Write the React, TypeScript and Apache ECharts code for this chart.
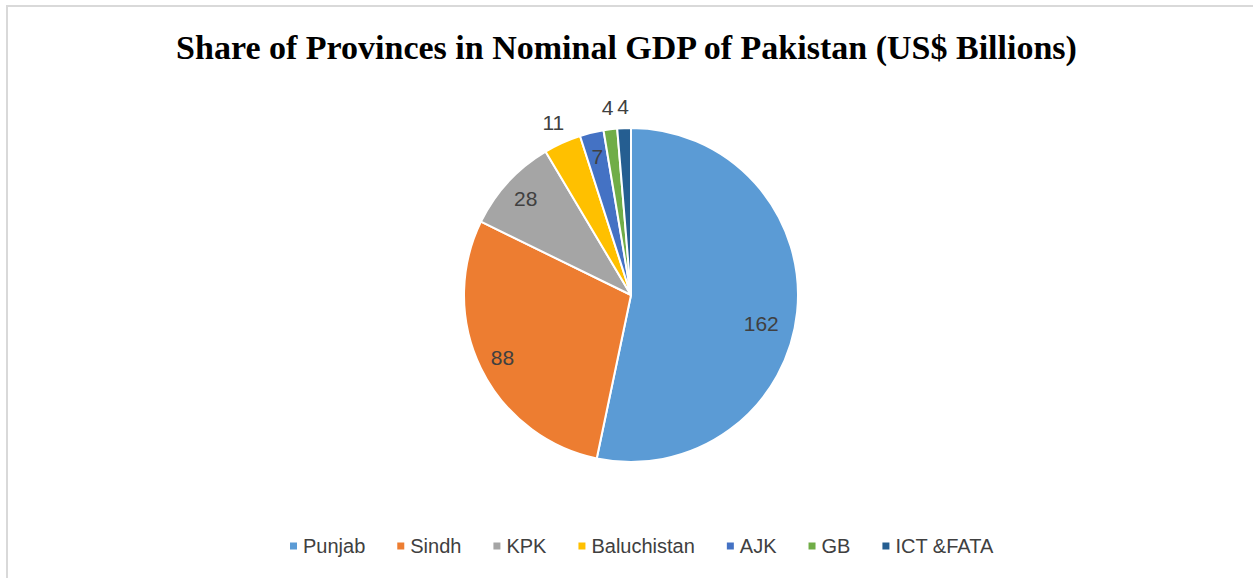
import React, { useEffect, useRef } from "react";
import * as echarts from "echarts";

const titleText = "Share of Provinces in Nominal GDP of Pakistan (US$ Billions)";
const regions = ["Punjab", "Sindh", "KPK", "Baluchistan", "AJK", "GB", "ICT &FATA"];
const gdpValues = [162, 88, 28, 11, 7, 4, 4];
const colors = ["#5B9BD5", "#ED7D31", "#A5A5A5", "#FFC000", "#4472C4", "#70AD47", "#255E91"];
// which labels sit inside the pie (true) or just outside it (false)
const labelInside = [true, true, true, false, true, false, false];

export default function App() {
  const ref = useRef<HTMLDivElement>(null);
  useEffect(() => {
    document.body.style.margin = "0";
    const chart = echarts.init(ref.current!, null, { renderer: "svg" });
    const labelStyle = {
      color: "#404040",
      fontSize: 21,
      fontFamily: "Liberation Sans, Arial, sans-serif",
    };
    const mainData = regions.map((n, i) => ({ name: n, value: gdpValues[i], itemStyle: { color: colors[i] } }));
    const labelData = (inside: boolean) =>
      regions.map((n, i) => ({
        name: n,
        value: gdpValues[i],
        label: i === 0 ? { show: labelInside[i] === inside, offset: [-12, 14] } : { show: labelInside[i] === inside },
      }));
    const center = [631, 295];
    chart.setOption({
      animation: false,
      backgroundColor: "#ffffff",
      title: {
        text: titleText,
        left: "center",
        top: 25,
        textStyle: {
          fontFamily: "Liberation Serif, serif",
          fontWeight: "bold",
          fontSize: 34,
          color: "#000000",
        },
      },
      legend: {
        data: regions,
        top: 531,
        left: 283,
        itemWidth: 9,
        itemHeight: 9,
        itemGap: 30,
        icon: "rect",
        textStyle: { color: "#404040", fontSize: 20, fontFamily: "Liberation Sans, Arial, sans-serif" },
        selectedMode: false,
      },
      graphic: [
        {
          type: "rect",
          shape: { x: 7, y: 6, width: 1400, height: 700 },
          style: { fill: "none", stroke: "#d9d9d9", lineWidth: 2 },
          silent: true,
        },
      ],
      series: [
        {
          type: "pie",
          center,
          radius: [0, 167],
          startAngle: 90,
          clockwise: true,
          data: mainData,
          label: { show: false },
          labelLine: { show: false },
          itemStyle: { borderColor: "#ffffff", borderWidth: 2 },
          silent: true,
        },
        {
          type: "pie",
          center,
          radius: [0, 280],
          startAngle: 90,
          clockwise: true,
          data: labelData(true),
          itemStyle: { color: "rgba(0,0,0,0)", borderWidth: 0 },
          label: { position: "inside", ...labelStyle, formatter: "{c}" },
          labelLine: { show: false },
          silent: true,
          z: 3,
        },
        {
          type: "pie",
          center,
          radius: [0, 372],
          startAngle: 90,
          clockwise: true,
          data: labelData(false),
          itemStyle: { color: "rgba(0,0,0,0)", borderWidth: 0 },
          label: { position: "inside", ...labelStyle, formatter: "{c}" },
          labelLine: { show: false },
          silent: true,
          z: 3,
        },
      ],
    });
    return () => chart.dispose();
  }, []);
  return <div ref={ref} style={{ width: 1253, height: 578 }} />;
}
